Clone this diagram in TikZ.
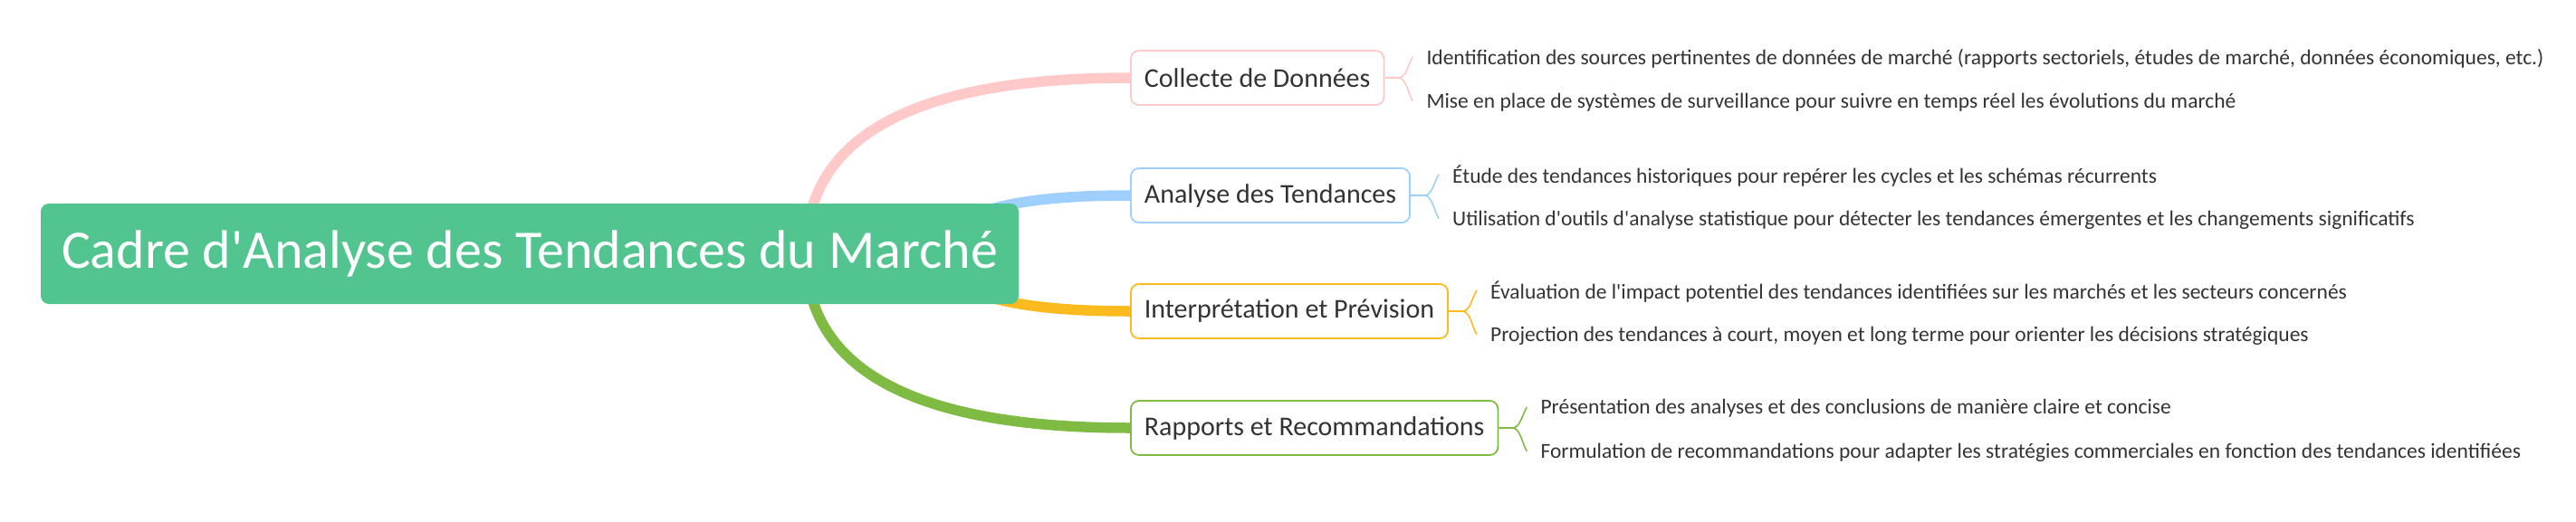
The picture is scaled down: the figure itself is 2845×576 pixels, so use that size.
\documentclass[tikz,border=0pt]{standalone}
\usepackage{fontspec}
\setmainfont{Carlito}
\usetikzlibrary{positioning,calc,backgrounds}

\definecolor{rootgreen}{HTML}{52C48F}
\definecolor{textgray}{HTML}{333333}
\definecolor{pinkc}{HTML}{FFC9C9}
\definecolor{bluec}{HTML}{9ECFFF}
\definecolor{orangec}{HTML}{FBBA1E}
\definecolor{greenc}{HTML}{7FBB42}

\begin{document}
\begin{tikzpicture}[
    x=1pt, y=-1pt,
    root/.style={rectangle, rounded corners=9pt, fill=rootgreen, text=white,
                 font=\fontsize{60}{66}\selectfont, minimum width=1080pt,
                 minimum height=111pt, inner sep=0pt},
    topic/.style={rectangle, draw, line width=1.8pt, rounded corners=9pt, fill=white,
                  text=textgray, font=\fontsize{30}{34}\selectfont,
                  minimum height=60pt, inner xsep=15pt, anchor=west},
    leaf/.style={text=textgray, font=\fontsize{23.5}{26}\selectfont, inner sep=0pt, anchor=mid west},
    up/.style={right=46pt of #1.east, yshift=21.3pt},
    down/.style={right=46pt of #1.east, yshift=-27.2pt},
    link/.style={line width=11.5pt},
    brace/.style={line width=1.6pt}
]
\useasboundingbox (0,0) rectangle (2845,576);

\coordinate (hubout) at (890,280);
\coordinate (hubin)  at (1040,280);

\node[topic, draw=pinkc]   (collect) at (1248,86)  {Collecte de Données};
\node[topic, draw=bluec]   (trends)  at (1248,216) {Analyse des Tendances};
\node[topic, draw=orangec] (interp)  at (1248,344) {Interprétation et Prévision};
\node[topic, draw=greenc]  (reports) at (1248,473) {Rapports et Recommandations};

\node[leaf, up=collect]   (collect1) {Identification des sources pertinentes de données de marché (rapports sectoriels, études de marché, données économiques, etc.)};
\node[leaf, down=collect] (collect2) {Mise en place de systèmes de surveillance pour suivre en temps réel les évolutions du marché};
\node[leaf, up=trends]    (trends1)  {Étude des tendances historiques pour repérer les cycles et les schémas récurrents};
\node[leaf, down=trends]  (trends2)  {Utilisation d\textquotesingle outils d\textquotesingle analyse statistique pour détecter les tendances émergentes et les changements significatifs};
\node[leaf, up=interp]    (interp1)  {Évaluation de l\textquotesingle impact potentiel des tendances identifiées sur les marchés et les secteurs concernés};
\node[leaf, down=interp]  (interp2)  {Projection des tendances à court, moyen et long terme pour orienter les décisions stratégiques};
\node[leaf, up=reports]   (reports1) {Présentation des analyses et des conclusions de manière claire et concise};
\node[leaf, down=reports] (reports2) {Formulation de recommandations pour adapter les stratégies commerciales en fonction des tendances identifiées};

\node[root] (root) at (585,280.5) {Cadre d\textquotesingle Analyse des Tendances du Marché};

% branches from the centre
\begin{scope}[on background layer]
\foreach \h/\t/\c in {hubout/collect/pinkc, hubin/trends/bluec,
                      hubin/interp/orangec, hubout/reports/greenc}
    \draw[link, \c] (\h) .. controls ($(\h)!0.667!(\h |- \t.west)$)
        and ($(\t.west)!0.667!(\h |- \t.west)$) .. (\t.west);
\end{scope}

% braces to the details
\foreach \t/\l/\c/\s in {collect/collect1/pinkc/1, collect/collect2/pinkc/-1,
                         trends/trends1/bluec/1, trends/trends2/bluec/-1,
                         interp/interp1/orangec/1, interp/interp2/orangec/-1,
                         reports/reports1/greenc/1, reports/reports2/greenc/-1}
    \draw[brace, \c] (\t.east) -- ++(15,0)
        .. controls +(9,0) and ($(\l.west)+(-20,\s*7-1.6)$) .. ($(\l.west)+(-15,-1.6)$);
\end{tikzpicture}
\end{document}
